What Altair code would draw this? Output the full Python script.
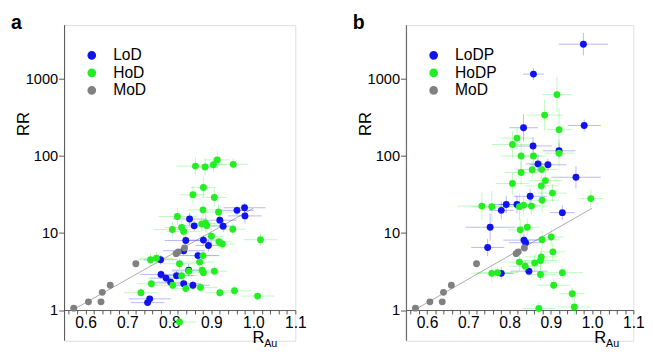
import altair as alt
import pandas as pd

# ---------------- data ----------------
mod_x = [0.572, 0.607, 0.637, 0.640, 0.659, 0.720, 0.816, 0.821, 0.836]
mod_y = [1.06, 1.28, 1.28, 1.70, 2.10, 4.00, 5.40, 5.70, 6.40]

fit_x = [0.572, 1.0]
fit_y = [1.02, 21.0]

a_lod_x = [0.961, 0.979, 0.980, 0.848, 0.859, 0.920, 0.928, 0.839, 0.881, 0.893, 0.834,
           0.868, 0.779, 0.846, 0.780, 0.792, 0.817, 0.803, 0.834, 0.856, 0.753, 0.748]
a_lod_y = [19.7, 21.3, 16.7, 15.2, 12.4, 14.7, 12.3, 8.0, 8.1, 6.9, 5.9,
           5.1, 4.5, 3.3, 2.9, 2.6, 2.8, 2.3, 2.2, 2.1, 1.4, 1.25]
a_lod_xe = [0.04, 0.05, 0.04, 0.04, 0.03, 0.04, 0.03, 0.05, 0.04, 0.03, 0.05,
            0.05, 0.04, 0.04, 0.05, 0.04, 0.04, 0.04, 0.04, 0.04, 0.05, 0.04]
a_lod_ye = [1.15, 1.15, 1.25, 1.2, 1.15, 1.2, 1.2, 1.15, 1.15, 1.2, 1.15,
            1.15, 1.15, 1.2, 1.15, 1.15, 1.15, 1.15, 1.15, 1.15, 1.1, 1.1]

a_hod_x = [0.862, 0.885, 0.905, 0.914, 0.952, 0.881, 0.856, 0.907, 0.880, 0.917,
           0.819, 0.886, 0.829, 0.807, 0.834, 0.877, 0.889, 0.951, 0.900, 0.918,
           0.926, 1.017, 0.880, 0.769, 0.755, 0.872, 0.824, 0.878, 0.846, 0.907,
           0.881, 0.829, 0.757, 0.808, 0.874, 0.839, 0.920, 0.955, 0.732, 1.010, 0.824]
a_hod_y = [74, 72, 77, 89, 78, 39, 31.5, 29, 20, 18.8,
           16.4, 13.4, 11.8, 11.1, 10.5, 13.1, 12.5, 11.2, 9.1, 7.7,
           7.2, 8.2, 5.1, 4.7, 4.5, 4.2, 4.0, 3.3, 3.2, 3.2,
           3.06, 2.8, 2.2, 2.1, 1.97, 1.9, 1.68, 1.78, 1.68, 1.52, 0.70]
a_hod_xe = [0.045, 0.03, 0.03, 0.03, 0.035, 0.03, 0.03, 0.03, 0.035, 0.035,
            0.045, 0.04, 0.04, 0.045, 0.04, 0.035, 0.035, 0.03, 0.03, 0.03,
            0.03, 0.04, 0.04, 0.04, 0.03, 0.035, 0.04, 0.03, 0.04, 0.03,
            0.035, 0.04, 0.035, 0.04, 0.04, 0.035, 0.035, 0.04, 0.04, 0.04, 0.04]
a_hod_ye = [1.3, 1.3, 1.25, 1.3, 1.2, 1.35, 1.3, 1.3, 1.25, 1.25,
            1.3, 1.3, 1.25, 1.25, 1.25, 1.25, 1.25, 1.2, 1.25, 1.2,
            1.2, 1.2, 1.2, 1.2, 1.2, 1.2, 1.2, 1.15, 1.15, 1.15,
            1.15, 1.15, 1.15, 1.15, 1.15, 1.15, 1.15, 1.15, 1.15, 1.15, 1.15]

b_lodp_x = [0.979, 0.858, 0.981, 0.834, 0.857, 0.920, 0.869, 0.893, 0.961, 0.850,
            0.792, 0.818, 0.780, 0.928, 0.753, 0.747, 0.835, 0.839, 0.847, 0.780]
b_lodp_y = [2830, 1157, 249, 233, 135, 117, 79, 77, 53, 30,
            23.5, 23.5, 19.7, 18.4, 11.9, 6.5, 8.1, 7.5, 3.2, 3.0]
b_lodp_xe = [0.06, 0.025, 0.04, 0.035, 0.045, 0.04, 0.03, 0.045, 0.06, 0.04,
             0.04, 0.045, 0.03, 0.03, 0.06, 0.04, 0.05, 0.04, 0.045, 0.03]
b_lodp_ye = [1.4, 1.2, 1.2, 1.5, 1.3, 1.25, 1.3, 1.2, 1.4, 1.25,
             1.3, 1.3, 1.3, 1.25, 1.5, 1.3, 1.2, 1.2, 1.15, 1.2]

b_hodp_x = [0.915, 0.885, 0.920, 0.818, 0.807, 0.828, 0.858, 0.920, 0.828, 0.855,
            0.878, 0.807, 0.877, 0.887, 0.904, 0.879, 0.733, 0.757, 0.824, 0.834,
            0.853, 0.997, 0.826, 0.843, 0.879, 0.901, 0.905, 0.877, 0.875, 0.861,
            0.824, 0.838, 0.757, 0.771, 0.875, 0.928, 0.907, 0.952, 0.871, 0.957]
b_hodp_y = [627, 340, 220, 171, 141, 100, 100, 109, 61, 66.5,
            67, 44, 41, 48, 33, 26.7, 22.4, 22, 22, 23,
            22.4, 28, 11, 11.9, 8.2, 8.9, 5.7, 4.9, 4.4, 4.1,
            4.2, 3.7, 3.0, 3.06, 2.9, 3.06, 2.1, 1.63, 1.05, 1.1]
b_hodp_xe = [0.035, 0.045, 0.03, 0.04, 0.05, 0.05, 0.03, 0.035, 0.04, 0.04,
             0.04, 0.04, 0.04, 0.04, 0.035, 0.04, 0.06, 0.05, 0.04, 0.04,
             0.04, 0.03, 0.03, 0.03, 0.04, 0.03, 0.03, 0.04, 0.04, 0.04,
             0.04, 0.04, 0.05, 0.05, 0.035, 0.05, 0.04, 0.03, 0.04, 0.04]
b_hodp_ye = [1.7, 1.6, 1.9, 1.4, 1.5, 1.5, 1.4, 1.5, 1.4, 1.3,
             1.3, 1.4, 1.3, 1.3, 1.3, 1.4, 1.5, 1.6, 1.5, 1.3,
             1.3, 1.3, 1.4, 1.3, 1.3, 1.3, 1.3, 1.3, 1.3, 1.3,
             1.3, 1.2, 1.3, 1.2, 1.2, 1.2, 1.2, 1.2, 1.2, 1.3]

x_ticks = [round(0.56 + 0.02 * i, 2) for i in range(28)]
y_major = [1, 10, 100, 1000]

BLUE = "#1212ee"
GREEN = "#22ee22"
GRAY = "#808080"
AXC = "#555555"


def frame(groups):
    rows = []
    for name, xs, ys, xe, ye in groups:
        for i in range(len(xs)):
            e = xe[i] if xe else 0.0
            f = ye[i] if ye else 1.0
            rows.append(dict(group=name, x=xs[i], y=ys[i], xlo=xs[i] - e, xhi=xs[i] + e,
                             ylo=ys[i] / f, yhi=ys[i] * f, err=bool(xe)))
    return pd.DataFrame(rows)


xscale = alt.Scale(domain=[0.55, 1.1], nice=False, zero=False)
yscale = alt.Scale(type="log", domain=[0.4, 5000], nice=False)

xaxis = alt.Axis(
    title="", values=x_ticks, offset=-31.5, tickSize=4,
    labelExpr="abs(datum.value*10 - round(datum.value*10)) < 0.001 ? format(datum.value, '.1f') : ''",
    labelFontSize=16, labelPadding=1, grid=False, labelFlush=False, labelOverlap=False,
)
yaxis = alt.Axis(
    title="RR", values=y_major, domain=False, format="d", tickSize=6,
    labelFontSize=15, labelPadding=1, grid=False, labelOverlap=False, labelFlush=False,
    titleX=-42, titleY=101, titleAngle=270, titleAlign="center", titleBaseline="middle",
    titleFontSize=17, titleFontWeight="normal",
)


def panel(df, domain, letter, w):
    cscale = alt.Scale(domain=domain, range=[BLUE, GREEN, GRAY])
    leg = alt.Legend(
        title=None, orient="none", legendX=20, legendY=23, labelFontSize=16,
        symbolType="circle", symbolSize=55, rowPadding=2, labelOffset=14,
        padding=0, labelColor="black", symbolOpacity=1,
    )
    col = alt.Color("group:N", scale=cscale, sort=domain, legend=leg)
    base = alt.Chart(df)
    errs = base.transform_filter("datum.err")
    hbar = errs.mark_rule(strokeWidth=1, opacity=0.3).encode(
        x=alt.X("xlo:Q", scale=xscale, axis=xaxis), x2="xhi:Q",
        y=alt.Y("y:Q", scale=yscale, axis=yaxis),
        color=col,
    )
    vbar = errs.mark_rule(strokeWidth=1, opacity=0.3).encode(
        x=alt.X("x:Q", scale=xscale, axis=xaxis),
        y=alt.Y("ylo:Q", scale=yscale, axis=yaxis), y2="yhi:Q",
        color=col,
    )
    fit = alt.Chart(pd.DataFrame({"x": fit_x, "y": fit_y})).mark_line(color="#aaaaaa", strokeWidth=1).encode(
        x=alt.X("x:Q", scale=xscale, axis=xaxis),
        y=alt.Y("y:Q", scale=yscale, axis=yaxis),
    )
    pts = base.mark_circle(size=50, opacity=1).encode(
        x=alt.X("x:Q", scale=xscale, axis=xaxis),
        y=alt.Y("y:Q", scale=yscale, axis=yaxis),
        color=col,
    )
    one = pd.DataFrame({"k": [0]})
    yline = alt.Chart(one).mark_rule(color=AXC, strokeWidth=1).encode(
        x=alt.value(0), y=alt.value(0), y2=alt.value(324))
    lab = alt.Chart(one).mark_text(text=letter, fontSize=20, fontWeight="bold", align="left",
                                   baseline="alphabetic").encode(x=alt.value(-55), y=alt.value(4))
    r = alt.Chart(one).mark_text(text="R", fontSize=17, align="left", baseline="alphabetic").encode(
        x=alt.value(193), y=alt.value(326))
    au = alt.Chart(one).mark_text(text="Au", fontSize=11, align="left", baseline="alphabetic").encode(
        x=alt.value(205), y=alt.value(330))
    return alt.layer(fit, hbar, vbar, pts, yline, lab, r, au).properties(width=w, height=324)


df_a = frame([("LoD", a_lod_x, a_lod_y, a_lod_xe, a_lod_ye),
              ("HoD", a_hod_x, a_hod_y, a_hod_xe, a_hod_ye),
              ("MoD", mod_x, mod_y, None, None)])
df_b = frame([("LoDP", b_lodp_x, b_lodp_y, b_lodp_xe, b_lodp_ye),
              ("HoDP", b_hodp_x, b_hodp_y, b_hodp_xe, b_hodp_ye),
              ("MoD", mod_x, mod_y, None, None)])

pa = panel(df_a, ["LoD", "HoD", "MoD"], "a", 237)
pb = panel(df_b, ["LoDP", "HoDP", "MoD"], "b", 233)

chart = alt.hconcat(pa, pb, spacing=46).resolve_scale(color="independent").properties(
    padding={"left": 2, "top": 0, "right": 0, "bottom": 0}
).configure_view(stroke="transparent", strokeWidth=0).configure(font="Liberation Sans").configure_axis(
    domainColor=AXC, tickColor=AXC, labelColor="black", titleColor="black",
    labelFont="Liberation Sans", titleFont="Liberation Sans",
).configure_legend(labelFont="Liberation Sans")

chart.save("out.html", embed_options={"renderer": "svg", "actions": False})
